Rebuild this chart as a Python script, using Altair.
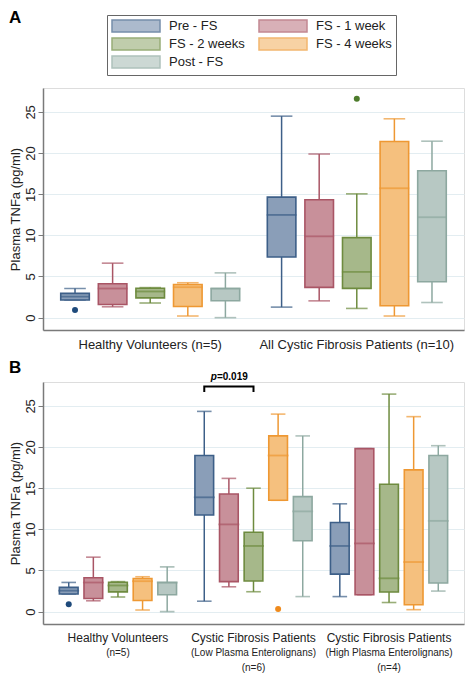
import altair as alt
import pandas as pd

# ---------------- data ----------------
series = ["Pre - FS", "FS - 1 week", "FS - 2 weeks", "FS - 4 weeks", "Post - FS"]
fill_colors = ["#8a9eb8", "#c8909a", "#a6b88a", "#f5c07e", "#b7c8c3"]
stroke_colors = ["#3d5f88", "#a95565", "#6e8b3f", "#ee9833", "#8da8a0"]
outlier_colors = ["#1e4a7b", "#a95565", "#4e7c2c", "#ef8a1c", "#8da8a0"]

# Panel A groups
groups_a = ["Healthy Volunteers (n=5)", "All Cystic Fibrosis Patients (n=10)"]
# Panel B groups
groups_b = ["Healthy Volunteers", "Cystic Fibrosis Patients (Low)", "Cystic Fibrosis Patients (High)"]
b_sub1 = ["(n=5)", "(Low Plasma Enterolignans)", "(High Plasma Enterolignans)"]
b_sub2 = ["", "(n=6)", "(n=4)"]

# five-number summaries per group, in series order: lower whisker, Q1, median, Q3, upper whisker
healthy = {
    "lower":  [2.15, 1.32, 1.78, 0.20, 0.00],
    "q1":     [2.15, 1.60, 2.40, 1.36, 2.05],
    "median": [2.55, 3.54, 3.18, 3.70, 3.54],
    "q3":     [2.95, 4.12, 3.58, 4.02, 3.54],
    "upper":  [3.55, 6.62, 3.65, 4.24, 5.44],
}
cf_all = {
    "lower":  [1.28, 2.04, 1.12, 0.20, 1.84],
    "q1":     [7.36, 3.68, 3.56, 1.44, 4.36],
    "median": [12.48, 9.88, 5.56, 15.72, 12.20],
    "q3":     [14.64, 14.32, 9.72, 21.40, 17.84],
    "upper":  [24.48, 19.88, 15.04, 24.16, 21.44],
}
cf_low = {
    "lower":  [1.27, 3.02, 2.42, 13.53, 1.83],
    "q1":     [11.75, 3.65, 3.73, 13.53, 8.61],
    "median": [13.89, 10.60, 7.98, 18.97, 12.18],
    "q3":     [18.97, 14.29, 9.64, 21.35, 13.97],
    "upper":  [24.33, 16.19, 15.00, 24.00, 21.35],
}
cf_high = {
    "lower":  [1.83, 2.06, 1.11, 0.24, 2.50],
    "q1":     [4.56, 2.06, 2.38, 0.83, 3.49],
    "median": [7.98, 8.29, 4.05, 6.03, 11.03],
    "q3":     [10.83, 19.80, 15.48, 17.22, 18.97],
    "upper":  [13.10, 19.80, 26.43, 23.69, 20.16],
}

# outliers
out_a_group = ["Healthy Volunteers (n=5)", "All Cystic Fibrosis Patients (n=10)"]
out_a_series = ["Pre - FS", "FS - 2 weeks"]
out_a_value = [0.92, 26.6]
out_b_group = ["Healthy Volunteers", "Cystic Fibrosis Patients (Low)"]
out_b_series = ["Pre - FS", "FS - 4 weeks"]
out_b_value = [0.90, 0.32]

# significance bracket (panel B)
p_group = "Cystic Fibrosis Patients (Low)"
p_series = ["Pre - FS", "Pre - FS", "FS - 2 weeks", "FS - 2 weeks"]
p_y = [26.7, 27.36, 27.36, 26.7]
p_text_series = "FS - 1 week"
p_text_y = 28.1


def box_frame(groups, stats_list):
    rows = []
    for g, st in zip(groups, stats_list):
        for i, s in enumerate(series):
            rows.append({"group": g, "series": s,
                         "lower": st["lower"][i], "q1": st["q1"][i],
                         "median": st["median"][i], "q3": st["q3"][i],
                         "upper": st["upper"][i]})
    return pd.DataFrame(rows)


df_a = box_frame(groups_a, [healthy, cf_all])
df_b = box_frame(groups_b, [healthy, cf_low, cf_high])
out_a = pd.DataFrame({"group": out_a_group, "series": out_a_series, "value": out_a_value})
out_b = pd.DataFrame({"group": out_b_group, "series": out_b_series, "value": out_b_value})
bracket = pd.DataFrame({"group": [p_group] * 4, "series": p_series, "y": p_y, "order": [0, 1, 2, 3]})
ptext = pd.DataFrame({"group": [p_group], "series": [p_text_series], "y": [p_text_y]})
sub_b = pd.DataFrame({"group": groups_b, "sub1": b_sub1, "sub2": b_sub2})

W = 421
H = 242
FONT = "Liberation Sans"
TXT = "#222222"
AXC = "#7a7a7a"

yscale = alt.Scale(domain=[-1.5, 27.9], nice=False, zero=False)
yaxis = alt.Axis(values=[0, 5, 10, 15, 20, 25], labelAngle=270, grid=True, gridColor="#e3edf1",
                 gridWidth=1, domainColor=AXC, domainWidth=1.5, tickColor=AXC, tickSize=5,
                 labelFontSize=13, labelColor=TXT, labelPadding=1, title="Plasma TNFa (pg/ml)",
                 titleFontSize=13, titleFontWeight="normal", titleColor=TXT, titlePadding=2)

legend_a = alt.Legend(title=None, orient="none", legendX=64, legendY=-73, columns=2,
                      direction="horizontal",
                      symbolType="M-1,-1L7,-1L7,1L-1,1Z", symbolSize=144,
                      symbolStrokeWidth=1.5, labelFontSize=13, labelColor=TXT, labelOffset=44,
                      columnPadding=11, rowPadding=0, padding=4, strokeColor="#666666",
                      fillColor="white")


def panel(df, outs, groups, pad_inner, pad_outer, cap_size, med_size, legend, xaxis, letter, letter_y):
    xsc = alt.Scale(domain=groups, paddingInner=pad_inner, paddingOuter=pad_outer)
    xo = alt.XOffset("series:N", scale=alt.Scale(domain=series, paddingInner=0.24, paddingOuter=0.12))
    stroke_enc = alt.Stroke("series:N", scale=alt.Scale(domain=series, range=stroke_colors), legend=legend)
    fill_enc = alt.Fill("series:N", scale=alt.Scale(domain=series, range=fill_colors), legend=legend)
    base = alt.Chart(df).encode(x=alt.X("group:N", scale=xsc, axis=xaxis, sort=groups), xOffset=xo)
    whisk = base.mark_rule(strokeWidth=1.5).encode(
        y=alt.Y("lower:Q", scale=yscale, axis=yaxis), y2="upper:Q", stroke=stroke_enc)
    cap_hi = base.mark_tick(filled=False, thickness=0.01, size=cap_size, strokeWidth=1.6).encode(
        y="upper:Q", stroke=stroke_enc)
    cap_lo = base.mark_tick(filled=False, thickness=0.01, size=cap_size, strokeWidth=1.6).encode(
        y="lower:Q", stroke=stroke_enc)
    box = base.mark_bar(strokeWidth=1.6).encode(y="q1:Q", y2="q3:Q", fill=fill_enc, stroke=stroke_enc)
    med = base.mark_tick(filled=False, thickness=0.01, size=med_size, strokeWidth=1.8).encode(
        y="median:Q", stroke=stroke_enc)
    outl = alt.Chart(outs).mark_circle(size=36, opacity=1).encode(
        x=alt.X("group:N", scale=xsc, axis=xaxis, sort=groups), xOffset=xo,
        y=alt.Y("value:Q"),
        color=alt.Color("series:N", scale=alt.Scale(domain=series, range=outlier_colors), legend=None))
    lab = alt.Chart(pd.DataFrame({"t": [letter]})).mark_text(
        fontSize=17, fontWeight="bold", align="left", baseline="top", color="black").encode(
        text="t:N", x=alt.value(-34), y=alt.value(letter_y))
    return [whisk, cap_hi, cap_lo, box, med, outl, lab], xsc, xo


xaxis_a = alt.Axis(title=None, ticks=False, labelAngle=0, labelFontSize=13, labelColor=TXT,
                   domainColor=AXC, domainWidth=1.5, labelPadding=8, grid=False, labelLimit=400)
xaxis_b = alt.Axis(title=None, ticks=False, labelAngle=0, labelFontSize=12, labelColor=TXT,
                   domainColor=AXC, domainWidth=1.5, labelPadding=8, grid=False, labelLimit=400,
                   labelExpr="split(datum.value, ' (')[0]")

layers_a, _, _ = panel(df_a, out_a, groups_a, 0.09, 0.064, 20, 28, legend_a, xaxis_a, "A", -78)
chart_a = alt.layer(*layers_a).properties(width=W, height=H)

layers_b, xsc_b, xo_b = panel(df_b, out_b, groups_b, 0.092, 0.099, 13, 19, None, xaxis_b, "B", -22)
br = alt.Chart(bracket).mark_line(color="black", strokeWidth=2).encode(
    x=alt.X("group:N", scale=xsc_b, axis=xaxis_b, sort=groups_b), xOffset=xo_b,
    y="y:Q", order="order:Q")
pt1 = alt.Chart(ptext).mark_text(text="p", fontStyle="italic", fontWeight="bold", fontSize=10,
                                 align="right", dx=-12, baseline="alphabetic", color="black").encode(
    x=alt.X("group:N", scale=xsc_b, axis=xaxis_b, sort=groups_b), xOffset=xo_b, y="y:Q")
pt2 = alt.Chart(ptext).mark_text(text="=0.019", fontWeight="bold", fontSize=10,
                                 align="left", dx=-12, baseline="alphabetic", color="black").encode(
    x=alt.X("group:N", scale=xsc_b, axis=xaxis_b, sort=groups_b), xOffset=xo_b, y="y:Q")
s1 = alt.Chart(sub_b).mark_text(fontSize=10, baseline="alphabetic", color=TXT).encode(
    x=alt.X("group:N", scale=xsc_b, axis=xaxis_b, sort=groups_b), y=alt.value(H + 32), text="sub1:N")
s2 = alt.Chart(sub_b).mark_text(fontSize=10, baseline="alphabetic", color=TXT).encode(
    x=alt.X("group:N", scale=xsc_b, axis=xaxis_b, sort=groups_b), y=alt.value(H + 47), text="sub2:N")
chart_b = alt.layer(*layers_b, br, pt1, pt2, s1, s2).properties(width=W, height=H)

chart = alt.vconcat(chart_a, chart_b, spacing=6).resolve_scale(
    fill="independent", stroke="independent", color="independent",
    x="independent", xOffset="independent"
).properties(padding=0).configure_view(stroke=None).configure(font=FONT)

chart.save("out.html", embed_options={"renderer": "svg", "actions": False})
